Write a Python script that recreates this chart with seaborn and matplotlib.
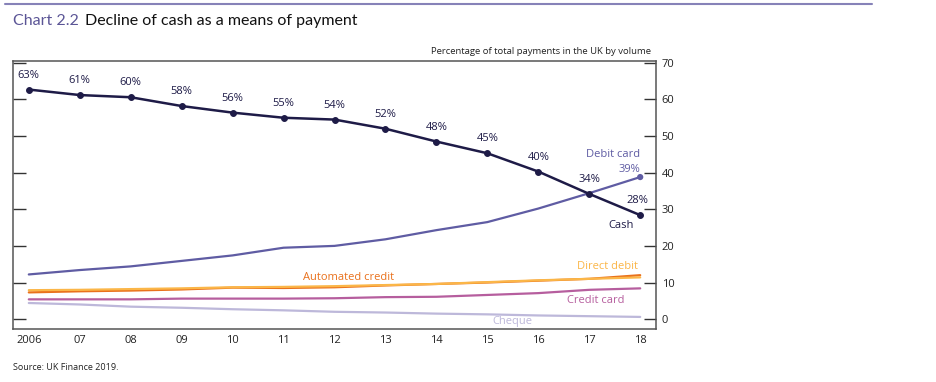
import numpy as np
import pandas as pd
import seaborn as sns
import matplotlib.pyplot as plt
from matplotlib.lines import Line2D

years = list(range(2006, 2019))
year_labels = ["2006", "07", "08", "09", "10", "11", "12", "13", "14", "15", "16", "17", "18"]

cash = [62.7, 61.2, 60.6, 58.2, 56.4, 55.0, 54.5, 52.0, 48.5, 45.3, 40.3, 34.2, 28.4]
cash_labels = ["63%", "61%", "60%", "58%", "56%", "55%", "54%", "52%", "48%", "45%", "40%", "34%", "28%"]
debit_card = [12.2, 13.4, 14.4, 15.9, 17.4, 19.5, 20.0, 21.8, 24.3, 26.5, 30.2, 34.4, 38.8]
automated_credit = [7.3, 7.6, 7.8, 8.1, 8.6, 8.5, 8.7, 9.2, 9.6, 10.0, 10.5, 11.0, 12.0]
direct_debit = [7.9, 8.0, 8.2, 8.4, 8.7, 8.8, 9.0, 9.3, 9.6, 10.1, 10.6, 11.0, 11.4]
credit_card = [5.4, 5.4, 5.4, 5.6, 5.6, 5.6, 5.7, 6.0, 6.1, 6.6, 7.1, 8.0, 8.4]
cheque = [4.4, 4.0, 3.4, 3.1, 2.7, 2.4, 2.0, 1.8, 1.5, 1.3, 1.0, 0.8, 0.6]

c_cash = "#1e1b47"
c_debit = "#5f5ca3"
c_auto = "#e9711c"
c_dd = "#fbb648"
c_credit = "#b65e9e"
c_cheque = "#bdb8da"
c_title = "#5b5596"

sns.set_style("white")
plt.rcParams["font.family"] = ["Open Sans", "DejaVu Sans"]

fig = plt.figure(figsize=(9.36, 3.82), dpi=100)
ax = fig.add_axes([13 / 936, 53 / 382, 643 / 936, 268 / 382])

df = pd.DataFrame({"year": years, "cash": cash, "debit": debit_card,
                   "auto": automated_credit, "dd": direct_debit,
                   "credit": credit_card, "cheque": cheque})

sns.lineplot(data=df, x="year", y="cheque", color=c_cheque, lw=1.6, ax=ax)
sns.lineplot(data=df, x="year", y="credit", color=c_credit, lw=1.6, ax=ax)
sns.lineplot(data=df, x="year", y="auto", color=c_auto, lw=1.6, ax=ax)
sns.lineplot(data=df, x="year", y="dd", color=c_dd, lw=1.6, ax=ax)
sns.lineplot(data=df, x="year", y="debit", color=c_debit, lw=1.6, ax=ax)
sns.scatterplot(x=[years[-1]], y=[debit_card[-1]], color=c_debit, s=20, edgecolor="none", ax=ax, zorder=4)
sns.lineplot(data=df, x="year", y="cash", color=c_cash, lw=1.8, marker="o",
             markersize=4.2, markeredgecolor=c_cash, ax=ax, zorder=5)

fs = 8
for i, (yr, v, lab) in enumerate(zip(years, cash, cash_labels)):
    if i == len(years) - 1:
        ax.text(yr - 0.05, v + 2.5, lab, ha="center", va="bottom", fontsize=fs, color=c_cash)
    else:
        ax.text(yr, v + 2.4, lab, ha="center", va="bottom", fontsize=fs, color=c_cash)

ax.text(2017.62, 24.0, "Cash", ha="center", va="bottom", fontsize=fs, color=c_cash)
ax.text(2018.0, 43.5, "Debit card", ha="right", va="bottom", fontsize=fs, color=c_debit)
ax.text(2018.0, 39.4, "39%", ha="right", va="bottom", fontsize=fs, color=c_debit)
ax.text(2012.27, 10.0, "Automated credit", ha="center", va="bottom", fontsize=fs, color=c_auto)
ax.text(2017.95, 13.0, "Direct debit", ha="right", va="bottom", fontsize=fs, color=c_dd)
ax.text(2017.7, 3.6, "Credit card", ha="right", va="bottom", fontsize=fs, color=c_credit)
ax.text(2015.49, -0.7, "Cheque", ha="center", va="center", fontsize=fs, color=c_cheque)

ax.set_xlim(2005.69, 2018.31)
ax.set_ylim(-2.7, 70.5)
ax.set_xticks(years)
ax.set_xticklabels(year_labels)
ax.set_yticks(range(0, 71, 10))
ax.set_xlabel("")
ax.set_ylabel("")
ax.yaxis.tick_right()
ax.tick_params(axis="x", direction="in", length=9, width=1, color="#333333",
               labelsize=fs, pad=4, labelcolor="#222222")
ax.tick_params(axis="y", direction="in", length=9, width=1, color="#333333",
               labelsize=fs, pad=4, labelcolor="#222222", left=True, right=True,
               labelleft=False, labelright=True)
for sp in ax.spines.values():
    sp.set_visible(True)
    sp.set_color("#555555")
    sp.set_linewidth(1.1)

fig.add_artist(Line2D([5 / 936, 872 / 936], [378 / 382, 378 / 382], color="#8682b8", lw=1.5))
fig.text(13 / 936, 361 / 382, "Chart 2.2", color=c_title, fontsize=11.5, va="center",
         ha="left", family=["Lato", "DejaVu Sans"])
fig.text(85 / 936, 361 / 382, "Decline of cash as a means of payment", color="#111111",
         fontsize=11.5, va="center", ha="left", family=["Lato", "DejaVu Sans"])
fig.text(651 / 936, 330 / 382, "Percentage of total payments in the UK by volume",
         fontsize=6.8, ha="right", va="center", color="#222222")
fig.text(13 / 936, 14 / 382, "Source: UK Finance 2019.", fontsize=6.5, ha="left",
         va="center", color="#222222")

fig.savefig("out.png", dpi=100)
